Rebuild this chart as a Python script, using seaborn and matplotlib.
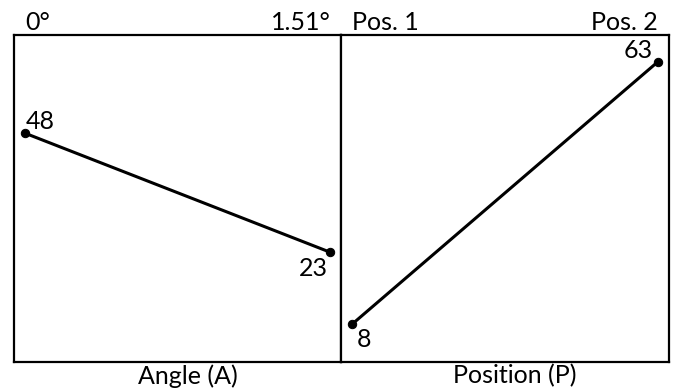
import pandas as pd
import seaborn as sns
import matplotlib.pyplot as plt

# main effect means
factor_names = ['Angle (A)', 'Position (P)']
angle_levels = ['0°', '1.51°']
position_levels = ['Pos. 1', 'Pos. 2']
angle_means = [48, 23]
position_means = [8, 63]

panels = [
    (factor_names[0], angle_levels, angle_means,
     [(0.7, 2.9, 'left'), (-2.2, -17.3, 'right')]),
    (factor_names[1], position_levels, position_means,
     [(2.9, -16.6, 'left'), (-3.6, 2.9, 'right')]),
]

sns.set_theme(style='white')
plt.rcParams['font.family'] = ['Lato', 'DejaVu Sans']
font_size = 18

fig, axes = plt.subplots(1, 2, figsize=(6.78, 3.9), dpi=100, sharey=True)
fig.subplots_adjust(left=0.0206, right=0.9867, bottom=0.0718, top=0.9103, wspace=0)

for ax, (name, levels, means, offsets) in zip(axes, panels):
    df = pd.DataFrame({'level': range(len(levels)), 'mean': means})
    sns.lineplot(data=df, x='level', y='mean', ax=ax, color='black', lw=2.2,
                 marker='o', markersize=6, markeredgecolor='black')

    # value labels next to each point
    for (x, y), (dx, dy, ha) in zip(zip(df['level'], df['mean']), offsets):
        ax.annotate(str(y), (x, y), xytext=(dx, dy), textcoords='offset points',
                    ha=ha, va='baseline', fontsize=font_size, color='black')

    ax.set_xlim(-0.036, 1.036)
    ax.set_ylim(0, 68.6)

    # level names on top of the box
    ax.xaxis.tick_top()
    ax.set_xticks(df['level'])
    ax.set_xticklabels(levels, fontsize=font_size, color='black')
    ax.get_xticklabels()[0].set_ha('left')
    ax.get_xticklabels()[1].set_ha('right')
    ax.tick_params(axis='x', length=0, pad=1)
    ax.set_yticks([])
    ax.set_ylabel('')

    # factor name below the box
    ax.set_xlabel(name, fontsize=font_size, color='black')
    ax.xaxis.set_label_position('bottom')
    ax.xaxis.set_label_coords(0.53, -0.006)

    for spine in ax.spines.values():
        spine.set_color('black')
        spine.set_linewidth(1.6)

fig.savefig('out.png', dpi=100)
